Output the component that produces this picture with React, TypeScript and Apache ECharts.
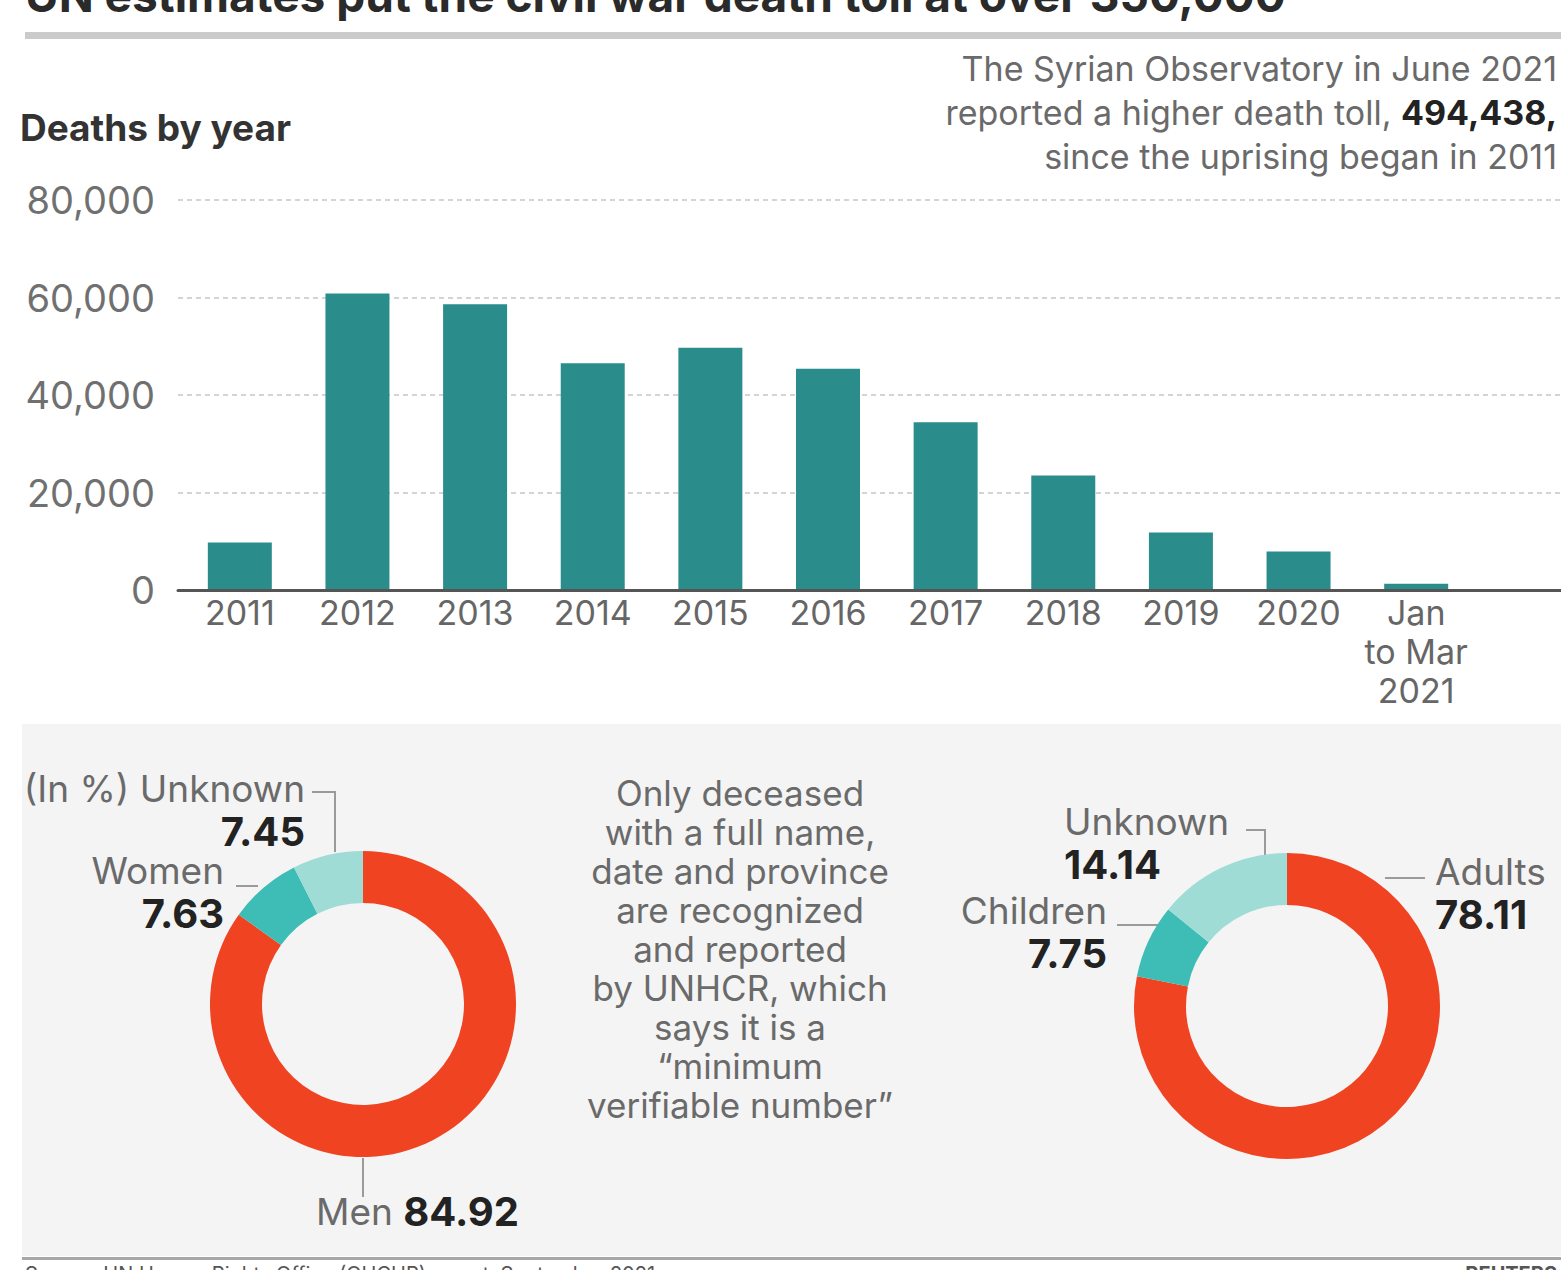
import React, { useEffect, useRef } from "react";
import * as echarts from "echarts";

// ---------- data ----------
const years = ["2011", "2012", "2013", "2014", "2015", "2016", "2017", "2018", "2019", "2020", "Jan\nto Mar\n2021"];
const deaths = [9750, 60800, 58600, 46500, 49700, 45400, 34400, 23500, 11800, 7900, 1300];
const yMin = 0;
const yMax = 80000;
const yStep = 20000;

const genderNames = ["Men", "Women", "Unknown"];
const genderValues = [84.92, 7.63, 7.45];
const ageNames = ["Adults", "Children", "Unknown"];
const ageValues = [78.11, 7.75, 14.14];

const titleText = "UN estimates put the civil war death toll at over 350,000";
const noteLines = ["The Syrian Observatory in June 2021", "reported a higher death toll, ", "since the uprising began in 2011"];
const noteNumber = "494,438,";
const middleLines = [
  "Only deceased",
  "with a full name,",
  "date and province",
  "are recognized",
  "and reported",
  "by UNHCR, which",
  "says it is a",
  "\u201cminimum",
  "verifiable number\u201d",
];
const sourceText = "Source: UN Human Rights Office (OHCHR) report, September 2021";

// ---------- styles ----------
const FONT = "Inter, 'Open Sans', sans-serif";
const RED = "#ef4322";
const TEAL = "#3dbdb5";
const LIGHT = "#9edcd5";
const BAR = "#2b8d8b";
const sliceColors = [RED, TEAL, LIGHT];

const genderLabelPos = [
  { x: 316, y: 1211, align: "left", va: "middle", line: [[363, 1158], [363, 1197]] },
  { x: 224, y: 849, align: "right", va: "top", line: [[236, 886], [258, 886]] },
  { x: 305, y: 767, align: "right", va: "top", line: [[312, 792], [335, 792], [335, 852]] },
];
const ageLabelPos = [
  { x: 1435, y: 850, align: "left", va: "top", line: [[1385, 878], [1425, 878]] },
  { x: 1107, y: 889, align: "right", va: "top", line: [[1117, 925], [1166, 925]] },
  { x: 1064, y: 800, align: "left", va: "top", line: [[1246, 830], [1265, 830], [1265, 856]] },
];

const richLabel = {
  name: { fontSize: 37, color: "#6a6a6a", lineHeight: 42, fontFamily: FONT },
  val: { fontSize: 40, color: "#222", fontWeight: "bold", lineHeight: 44, fontFamily: FONT },
};

function makePie(names: string[], values: number[], center: number[], pos: any[], prefix: string) {
  return {
    type: "pie",
    center,
    radius: [101, 153],
    startAngle: 90,
    clockwise: true,
    silent: true,
    avoidLabelOverlap: false,
    data: names.map((n, i) => ({ name: n, value: values[i], itemStyle: { color: sliceColors[i] } })),
    itemStyle: { borderWidth: 0 },
    label: {
      show: true,
      formatter: (p: any) => {
        const v = Number(p.value).toFixed(2);
        if (p.dataIndex === 0 && prefix) return `{name|${p.name} }{val|${v}}`;
        const nm = p.dataIndex === 2 && prefix ? `${prefix} ${p.name}` : p.name;
        return `{name|${nm}}\n{val|${v}}`;
      },
      rich: richLabel,
    },
    labelLine: { show: true, length: 10, length2: 10, lineStyle: { color: "#9a9a9a", width: 2 } },
    labelLayout: (p: any) => {
      const L = pos[p.dataIndex];
      return { x: L.x, y: L.y, align: L.align, verticalAlign: L.va, labelLinePoints: L.line };
    },
  };
}

export default function App() {
  const ref = useRef<HTMLDivElement>(null);
  useEffect(() => {
    if (!ref.current) return;
    const chart = echarts.init(ref.current, null, { renderer: "svg" });
    const option: any = {
      animation: false,
      backgroundColor: "#ffffff",
      textStyle: { fontFamily: FONT },
      grid: [
        { left: 181, right: 86, top: 200, bottom: 680 },
        { left: 178, right: 0, top: 200, bottom: 680 },
      ],
      xAxis: [
        {
          type: "category",
          gridIndex: 0,
          data: years,
          axisLine: { show: false },
          axisTick: { show: false },
          axisLabel: { color: "#666", fontSize: 34, lineHeight: 39, margin: 3, interval: 0, fontFamily: FONT },
        },
        {
          type: "value",
          gridIndex: 1,
          min: 0,
          max: 1,
          z: 5,
          axisLine: { show: true, onZero: false, lineStyle: { color: "#555", width: 3 } },
          axisTick: { show: false },
          axisLabel: { show: false },
          splitLine: { show: false },
        },
      ],
      yAxis: [
        {
          type: "value",
          gridIndex: 0,
          min: yMin,
          max: yMax,
          interval: yStep,
          axisLabel: { show: false },
          axisLine: { show: false },
          axisTick: { show: false },
          splitLine: { show: false },
        },
        {
          type: "value",
          gridIndex: 1,
          min: yMin,
          max: yMax,
          interval: yStep,
          axisLine: { show: false },
          axisTick: { show: false },
          axisLabel: {
            color: "#707070",
            fontSize: 38,
            margin: 23,
            fontFamily: FONT,
            formatter: (v: number) => v.toLocaleString("en-US"),
          },
          splitLine: { lineStyle: { color: "#d4d4d4", width: 2, type: [5, 4] } },
        },
      ],
      series: [
        {
          type: "bar",
          xAxisIndex: 0,
          yAxisIndex: 0,
          data: deaths,
          barWidth: 64,
          silent: true,
          itemStyle: { color: BAR },
        },
        makePie(genderNames, genderValues, [363, 1004], genderLabelPos, "(In %)"),
        makePie(ageNames, ageValues, [1287, 1006], ageLabelPos, ""),
      ],
      graphic: [
        { type: "rect", z: 0, shape: { x: 22, y: 724, width: 1539, height: 532 }, style: { fill: "#f4f4f4" } },
        {
          type: "text",
          z: 10,
          x: 25,
          y: -5,
          style: { text: titleText, fontSize: 46, fontWeight: "bold", fill: "#2a2a2a", fontFamily: FONT, verticalAlign: "middle" },
        },
        { type: "rect", z: 10, shape: { x: 25, y: 32, width: 1536, height: 7 }, style: { fill: "#cbcbcb" } },
        {
          type: "text",
          z: 10,
          x: 1557,
          y: 46,
          style: {
            text: `${noteLines[0]}\n${noteLines[1]}{b|${noteNumber}}\n${noteLines[2]}`,
            fontSize: 34,
            lineHeight: 44,
            fill: "#6a6a6a",
            fontFamily: FONT,
            align: "right",
            verticalAlign: "top",
            rich: { b: { fontSize: 34, fontWeight: "bold", fill: "#222", fontFamily: FONT, lineHeight: 44 } },
          },
        },
        {
          type: "text",
          z: 10,
          x: 20,
          y: 127,
          style: { text: "Deaths by year", fontSize: 37, fontWeight: "bold", fill: "#333", fontFamily: FONT, verticalAlign: "middle" },
        },
        {
          type: "text",
          z: 10,
          x: 740,
          y: 773,
          style: {
            text: middleLines.join("\n"),
            fontSize: 35,
            lineHeight: 39,
            fill: "#6a6a6a",
            fontFamily: FONT,
            align: "center",
            verticalAlign: "top",
          },
        },
        { type: "rect", z: 10, shape: { x: 22, y: 1257, width: 1539, height: 3 }, style: { fill: "#a8a8a8" } },
        {
          type: "text",
          z: 10,
          x: 25,
          y: 1264,
          style: { text: sourceText, fontSize: 20, fill: "#555", fontFamily: FONT, verticalAlign: "top" },
        },
        {
          type: "text",
          z: 10,
          x: 1557,
          y: 1264,
          style: { text: "REUTERS", fontSize: 20, fontWeight: "bold", fill: "#555", fontFamily: FONT, align: "right", verticalAlign: "top" },
        },
      ],
    };
    chart.setOption(option);
    return () => chart.dispose();
  }, []);
  return <div ref={ref} style={{ position: "fixed", left: 0, top: 0, width: 1561, height: 1270 }} />;
}
